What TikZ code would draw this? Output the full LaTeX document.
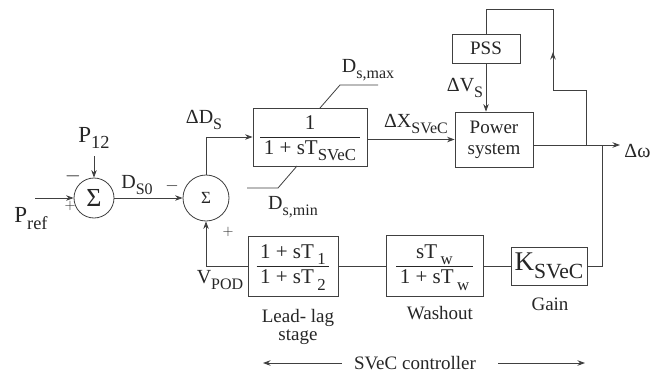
\documentclass[tikz,border=0pt]{standalone}
\usepackage{fontspec}
\setmainfont{Liberation Serif}
\usepackage{graphicx}
\usetikzlibrary{arrows.meta, positioning}

% lowered, slightly smaller subscript as in the original figure
\newcommand\subtxt[1]{\raisebox{-0.3em}{\scalebox{0.8}{#1}}}
\newcommand\fsz[1]{\fontsize{#1}{#1}\selectfont}

\tikzset{
  blk/.style={draw, inner sep=2pt},
  sumnode/.style={draw, circle, inner sep=0pt},
  lbl/.style={inner sep=0pt, font=\fsz{20}},
  sgn/.style={inner sep=0pt, font=\fsz{15}},
}

\begin{document}
\begin{tikzpicture}[x=1pt, y=-1pt, >={Stealth[length=7.5pt, width=5.5pt]},
  line width=0.8pt, draw=black!75, text=black!85, font=\fsz{18}]

\useasboundingbox[fill=white] (0,0) rectangle (670,375);

% Summing junctions
\node[sumnode, minimum size=40pt, font=\fsz{26}] (sum1) at (94,198) {Σ};
\node[sumnode, minimum size=46pt, font=\fsz{17}] (sum2) at (206,198) {Σ};

% Forward path blocks
\node[blk, minimum width=114pt, minimum height=58pt, font=\fontsize{21}{24}\selectfont] (lag) at (310,137)
  {\begin{tabular}{@{\,}c@{\,}}1\\\hline 1 + sT\subtxt{SVeC}\end{tabular}};
\node[blk, minimum width=78pt, minimum height=55pt, align=center, font=\fontsize{19}{21}\selectfont] (psys) at (494,139.5)
  {Power\\system};
\node[blk, minimum width=68pt, minimum height=29pt, font=\fsz{19}] (pss) at (486,48.5) {PSS};

% Feedback (controller) blocks
\node[blk, minimum width=76pt, minimum height=38pt, font=\fsz{27}] (gain) at (549,266) {K\subtxt{SVeC}};
\node[blk, minimum width=97pt, minimum height=61pt, font=\fontsize{21}{25}\selectfont] (wash) at (434.5,266)
  {\begin{tabular}{@{\,}c@{\,}}sT\,\subtxt{w}\\\hline 1 + sT\,\subtxt{w}\end{tabular}};
\node[blk, minimum width=90pt, minimum height=60pt, font=\fontsize{21}{25}\selectfont] (llag) at (293,266)
  {\begin{tabular}{@{\,}c@{\,}}1 + sT\,\subtxt{1}\\\hline 1 + sT\,\subtxt{2}\end{tabular}};

% Inputs
\coordinate (pref in) at (35,198);
\coordinate (p12 in) at (94,156);
\node[lbl, font=\fsz{23}] (pref lbl) at (31,219) {P\subtxt{ref}};
\node[lbl, font=\fsz{23}] (p12 lbl) at (94,138) {P\subtxt{12}};
\draw[->] (pref in) -- (sum1.west);
\draw[->] (p12 in) -- (sum1.north);
\node[sgn, font=\fsz{22}] (sgn1) at (73,176) {$-$};
\node[sgn] (sgn2) at (70,206) {$+$};

\draw[->] (sum1.east) -- (sum2.west);
\node[lbl] (ds0 lbl) at (137,185) {D\subtxt{S0}};
\node[sgn, font=\fsz{18}] (sgn3) at (172,186) {$-$};
\node[sgn] (sgn4) at (228,232) {$+$};

\draw[->] (sum2.north) |- (lag.west);
\node[lbl] (dds lbl) at (204,120) {ΔD\subtxt{S}};

% Limiter
\coordinate (mx0) at (320,108);
\coordinate (mx1) at (340,85);
\coordinate (mx2) at (378,85);
\coordinate (mn0) at (297,166);
\coordinate (mn1) at (278,188);
\coordinate (mn2) at (247,188);
\draw (mx0) -- (mx1) -- (mx2);
\draw (mn0) -- (mn1) -- (mn2);
\node[lbl] (dmax lbl) at (368,70) {D\subtxt{s,max}};
\node[lbl] (dmin lbl) at (293,207) {D\subtxt{s,min}};

\draw[->] (lag.east |- psys.west) -- (psys.west);
\node[lbl] (dx lbl) at (416,124) {ΔX\subtxt{SVeC}};

% Output and PSS loop
\coordinate (wout) at (620,145);
\coordinate (j1) at (586,145);
\coordinate (j2) at (602,145);
\coordinate (up1) at (553,90);
\coordinate (mid) at (553,52);
\coordinate (top) at (553,9);
\draw[->] (psys.east |- wout) -- (wout);
\node[lbl, anchor=west] (w lbl) at (624,151) {Δω};
\draw (j1) |- (up1) -- (top) -| (pss.north);
\draw[->] (up1) -- (mid);
\draw[->] (pss.south) -- (pss.south |- psys.north);
\node[lbl] (dvs lbl) at (465,88) {ΔV\subtxt{S}};

% Controller feedback
\draw (j2) |- (gain.east);
\draw (gain.west) -- (wash.east);
\draw (wash.west) -- (llag.east);
\draw[->] (llag.west) -| (sum2.south);
\node[lbl] (vpod lbl) at (220,280) {V\subtxt{POD}};

\node[lbl, align=center, font=\fontsize{19}{18}\selectfont] (llag lbl) at (298,327) {Lead- lag\\stage};
\node[lbl, font=\fsz{19}] (wash lbl) at (440,313) {Washout};
\node[lbl, font=\fsz{19}] (gain lbl) at (550,304) {Gain};

% Controller extent
\node[lbl, font=\fsz{19}] (ctrl lbl) at (415,363) {SVeC controller};
\coordinate (cl) at (263,363);
\coordinate (cr) at (585,363);
\draw[->] ([xshift=-12pt]ctrl lbl.west) -- (cl);
\draw[->] ([xshift=22pt]ctrl lbl.east) -- (cr);

\end{tikzpicture}
\end{document}
